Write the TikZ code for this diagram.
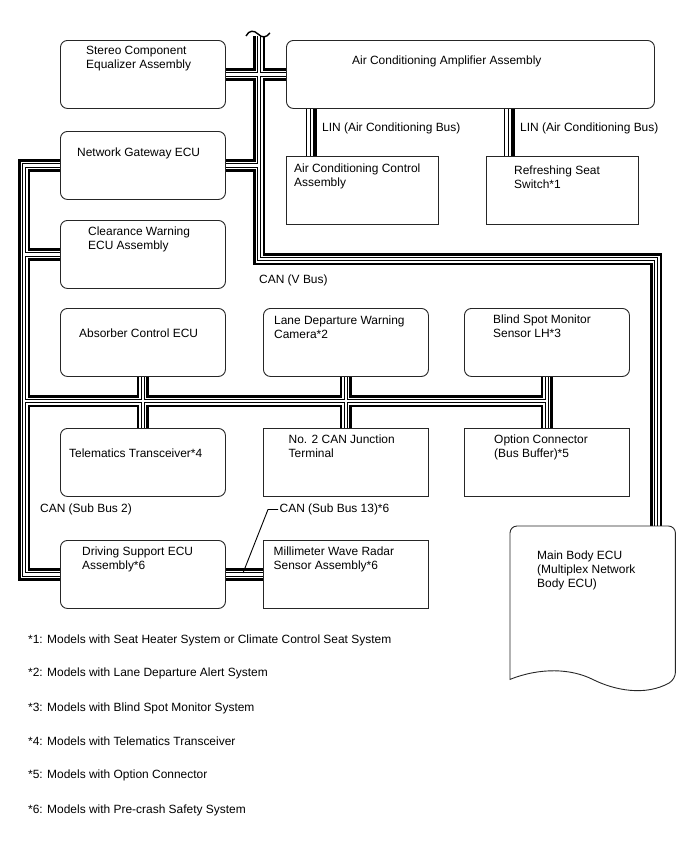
\documentclass[tikz,border=0pt]{standalone}
\usepackage{fontspec}
\setmainfont{Liberation Sans}
\usetikzlibrary{backgrounds,calc}
\begin{document}
\begin{tikzpicture}[x=1bp,y=-1bp,
  rbox/.style={draw=black!85, line width=0.9bp, fill=white, rounded corners=7bp,
    minimum width=165bp, minimum height=68bp, anchor=north west, inner sep=0pt},
  sbox/.style={rbox, sharp corners},
  lbl/.style={anchor=west, inner sep=0pt, align=left, font=\fontsize{11.95bp}{14bp}\selectfont},
  thinline/.style={line width=0.9bp, draw=black}
]
\useasboundingbox (0,0) rectangle (688,852);

% boxes
\node[rbox] (stereo) at (60,40) {};
\node[rbox, minimum width=368bp] (acamp) at (286,40) {};
\node[rbox] (gateway) at (60,131) {};
\node[sbox, minimum width=152bp] (acctrl) at (286,156) {};
\node[sbox, minimum width=152bp] (seat) at (486,156) {};
\node[rbox] (clear) at (60,220) {};
\node[rbox] (absorber) at (60,308) {};
\node[rbox] (ldw) at (263,308) {};
\node[rbox] (bsm) at (464,308) {};
\node[rbox] (telem) at (60,428) {};
\node[sbox] (no2) at (263,428) {};
\node[sbox] (option) at (464,428) {};
\node[rbox] (drive) at (60,540) {};
\node[sbox] (mmw) at (263,540) {};
\node[anchor=north west, inner sep=0pt, minimum width=165bp, minimum height=153bp] (mainb) at (510,526) {};
\draw[draw=black!85, line width=0.9bp, fill=white]
  (mainb.south west) [rounded corners=7bp] -- (mainb.north west) -- (mainb.north east) -- (mainb.south east)
  [sharp corners] .. controls +(-30,17) and +(22,11) .. (mainb.south)
  .. controls +(-22,-11) and +(30,-12) .. (mainb.south west) -- cycle;

% helper coordinates
\coordinate (tx) at (259,0);
\coordinate (rx) at (656,0);
\coordinate (lx) at (24,0);
\coordinate (hy) at (0,401);
\coordinate (ttop) at (259,36);
\coordinate (tcor) at (259,259);
\coordinate (rcor) at (656,259);
\coordinate (lin1) at (311,0);
\coordinate (lin2) at (509,0);

\newcommand\canpaths[1]{%
  \draw[#1] (ttop) -- (tcor) -- (rcor) -- (mainb.north -| rx);
  \draw[#1] (stereo.east) -- (acamp.west);
  \draw[#1] (gateway.east) -- (gateway.east -| tx);
  \draw[#1] (gateway.west) -- (gateway.west -| lx) -- (drive.west -| lx) -- (drive.west);
  \draw[#1] (clear.west) -- (clear.west -| lx);
  \draw[#1] (lx |- hy) -- (bsm.south |- hy);
  \draw[#1] (absorber.south) -- (telem.north);
  \draw[#1] (ldw.south) -- (no2.north);
  \draw[#1] (bsm.south) -- (option.north);
  \draw[#1] (drive.east) -- (mmw.west);
}

\begin{pgfonlayer}{background}
  \canpaths{line width=12.6bp, black, line join=miter}
  \canpaths{line width=7bp, white, line join=miter}
  \canpaths{line width=4.6bp, black, line join=miter}
  \canpaths{line width=2.2bp, white, line join=miter}
  \foreach \s/\w in {-4.5/1.1, -0.5/1.1, 4/3.3} {
    \draw[line width=\w bp, transform canvas={xshift=\s bp}] (acamp.south -| lin1) -- (acctrl.north -| lin1);
    \draw[line width=\w bp, transform canvas={xshift=\s bp}] (acamp.south -| lin2) -- (seat.north -| lin2);
  }
\end{pgfonlayer}

% break mark at top of the V bus
\coordinate (brA) at (246,36);
\coordinate (brB) at (258,34);
\coordinate (brC) at (270,33);
\draw[line width=1.4bp] (brA) .. controls (249,30) and (254,30) .. (brB) .. controls (262,38) and (266,38) .. (brC);

% box texts
\node[lbl] (tstereo) at (86,59) {Stereo Component\\Equalizer Assembly};
\node[lbl] (tacamp) at (352,61.7) {Air Conditioning Amplifier Assembly};
\node[lbl] (tgateway) at (77,153) {Network Gateway ECU};
\node[lbl] (tacctrl) at (294,176.7) {Air Conditioning Control\\Assembly};
\node[lbl] (tseat) at (514,177) {Refreshing Seat\\Switch*1};
\node[lbl] (tclear) at (88,239.5) {Clearance Warning\\ECU Assembly};
\node[lbl] (tabsorber) at (79,333) {Absorber Control ECU};
\node[lbl] (tldw) at (274,327) {Lane Departure Warning\\Camera*2};
\node[lbl] (tbsm) at (493,326) {Blind Spot Monitor\\Sensor LH*3};
\node[lbl] (ttelem) at (69,453) {Telematics Transceiver*4};
\node[lbl] (tno2) at (288.5,446) {No. 2 CAN Junction\\Terminal};
\node[lbl] (toption) at (494,447) {Option Connector\\(Bus Buffer)*5};
\node[lbl] (tdrive) at (82,559.5) {Driving Support ECU\\Assembly*6};
\node[lbl] (tmmw) at (273.5,559.5) {Millimeter Wave Radar\\Sensor Assembly*6};
\node[lbl] (tmain) at (537,570.3) {Main Body ECU\\(Multiplex Network\\Body ECU)};

% bus labels
\node[lbl] (lin1lbl) at (322,128) {LIN (Air Conditioning Bus)};
\node[lbl] (lin2lbl) at (520,128) {LIN (Air Conditioning Bus)};
\node[lbl] (vbus) at (259,280) {CAN (V Bus)};
\node[lbl] (sb2) at (40,509) {CAN (Sub Bus 2)};
\node[lbl] (sb13) at (279.5,509.5) {CAN (Sub Bus 13)*6};
\coordinate (ldA) at (268,509.5);
\coordinate (ldB) at (243,573);
\draw[thinline] ([xshift=-1.5bp]sb13.west) -- (ldA) -- (ldB);

% footnotes
\node[lbl] (f1) at (28,640) {*1: Models with Seat Heater System or Climate Control Seat System};
\node[lbl] (f2) at (28,673) {*2: Models with Lane Departure Alert System};
\node[lbl] (f3) at (28,708) {*3: Models with Blind Spot Monitor System};
\node[lbl] (f4) at (28,741) {*4: Models with Telematics Transceiver};
\node[lbl] (f5) at (28,775) {*5: Models with Option Connector};
\node[lbl] (f6) at (28,810) {*6: Models with Pre-crash Safety System};
\end{tikzpicture}
\end{document}
